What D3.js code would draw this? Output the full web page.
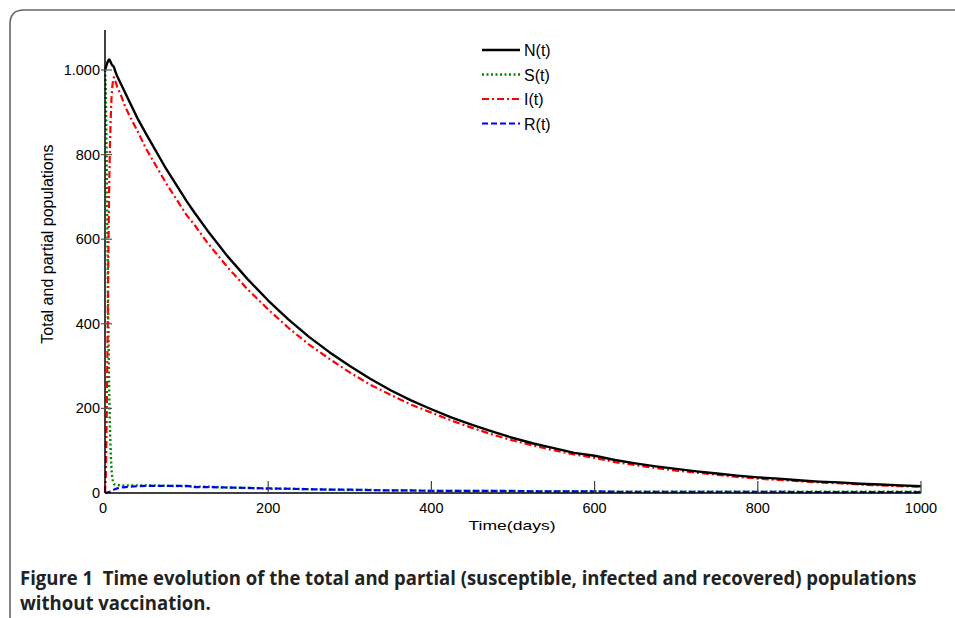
<!DOCTYPE html>
<html><head><meta charset="utf-8">
<script src="https://cdn.jsdelivr.net/npm/d3@7"></script>
<style>body{margin:0;background:#fff}svg{display:block}</style>
</head><body>
<script>
const times = [0,1,2,3,4,5,6,7,8,9,10,11,12,15,20,25,30,40,50,75,100,110,125,150,175,200,225,250,275,300,325,350,375,400,425,450,475,500,525,550,575,600,625,650,675,700,725,750,775,800,825,850,875,900,925,950,975,1000];
const valuesN = [1000,1006,1012,1018,1022,1025,1023,1018,1014,1011,1009,1007,1000,985,965,945,925,885,850,766,690,662,622,560,505,455,410,369,333,300,270,243,219,198,178,161,145,130,117,106,95,88,78,70,63,57,51,46,41,37,34,30,27,25,22,20,18,16];
const valuesS = [1000,950,800,600,420,260,160,95,55,35,25,21,20,19,18,18,18,18,18,17,16,15,15,13,12,10,10,9,8,7,7,6,6,5,5,5,5,4,4,4,4,4,3,3,3,3,3,3,3,3,3,3,3,3,3,3,3,3];
const valuesI = [0,40,160,340,540,710,815,885,935,962,978,983,978,960,938,912,892,855,815,732,657,633,593,534,481,434,390,351,317,285,256,232,209,190,171,154,138,124,112,101,91,83,73,66,59,53,48,43,38,34,31,28,25,23,20,18,16,15];
const valuesR = [0,0,1,1,2,2,3,4,5,6,7,8,9,11,13,14,15,16,17,17,17,14,14,13,12,11,10,9,8,8,7,6,6,5,5,5,5,5,4,4,4,4,3,3,3,3,3,3,3,3,3,2,2,2,2,2,2,2];
const seriesNames = ["N(t)","S(t)","I(t)","R(t)"];
const xTicks = [0,200,400,600,800,1000];
const yTicks = [0,200,400,600,800,1000];
const yTickLabels = ["0","200","400","600","800","1.000"];
const xTitle = "Time(days)";
const yTitle = "Total and partial populations";
const caption1 = "Figure 1  Time evolution of the total and partial (susceptible, infected and recovered) populations";
const caption2 = "without vaccination.";

const W = 955, H = 618;
const svg = d3.select("body").append("svg").attr("width", W).attr("height", H);

// frame
svg.append("path").attr("d", "M10,618 L10,24 Q10,10 24,10 L955,10")
  .attr("fill","none").attr("stroke","#666").attr("stroke-width",1.6);

const x = d3.scaleLinear().domain([0,1000]).range([105,921]);
const y = d3.scaleLinear().domain([0,1000]).range([493,70]);
const font = "'Liberation Sans', Arial, sans-serif";

const styles = [
  {color:"#000000", dash:null, w:2.4, vals:valuesN},
  {color:"#008a00", dash:"2,2.5", w:2.4, vals:valuesS},
  {color:"#ff0000", dash:"7,3,2,3", w:2.2, vals:valuesI},
  {color:"#0000ff", dash:"6,3", w:2.2, vals:valuesR}
];

const line = d3.line().x(d=>x(d[0])).y(d=>y(d[1]));
[1,2,0,3].forEach(i=>{
  const s = styles[i];
  svg.append("path").datum(times.map((t,k)=>[t,s.vals[k]]))
    .attr("d", line).attr("fill","none").attr("stroke", s.color)
    .attr("stroke-width", s.w).attr("stroke-dasharray", s.dash)
    .attr("stroke-linejoin","round");
});

// axes
svg.append("line").attr("x1",105).attr("x2",105).attr("y1",30).attr("y2",493).attr("stroke","#000").attr("stroke-width",1.5);
svg.append("line").attr("x1",105).attr("x2",921).attr("y1",493).attr("y2",493).attr("stroke","#000").attr("stroke-width",1.5);

yTicks.forEach((v,i)=>{
  if (i>0) svg.append("line").attr("x1",101).attr("x2",112).attr("y1",y(v)).attr("y2",y(v)).attr("stroke","#555").attr("stroke-width",1.2);
  svg.append("text").attr("x",100).attr("y",y(v)+5).attr("text-anchor","end")
    .attr("font-family",font).attr("font-size",14.5).text(yTickLabels[i]);
});
xTicks.forEach(v=>{
  if (v>0) svg.append("line").attr("x1",x(v)).attr("x2",x(v)).attr("y1",493).attr("y2",481).attr("stroke","#444").attr("stroke-width",1.2);
  svg.append("text").attr("x",x(v)-(v===0?2:0)).attr("y",513).attr("text-anchor","middle")
    .attr("font-family",font).attr("font-size",14.5).text(v);
});

svg.append("text").attr("x",512).attr("y",530).attr("text-anchor","middle")
  .attr("font-family",font).attr("font-size",13.5).attr("textLength",87).attr("lengthAdjust","spacingAndGlyphs").text(xTitle);
svg.append("text").attr("transform","translate(53,244) rotate(-90)").attr("text-anchor","middle")
  .attr("font-family",font).attr("font-size",16).text(yTitle);

// legend
seriesNames.forEach((n,i)=>{
  const s = styles[i];
  const ly = 50 + i*24.5;
  svg.append("line").attr("x1",482).attr("x2",520).attr("y1",ly).attr("y2",ly)
    .attr("stroke",s.color).attr("stroke-width",s.w).attr("stroke-dasharray",s.dash);
  svg.append("text").attr("x",524).attr("y",ly+6).attr("font-family",font).attr("font-size",16).text(n);
});

// caption: fitted to its width with a horizontal scale
function caption(txt, yb, targetW){
  const g = svg.append("g");
  const t = g.append("text").attr("x",0).attr("y",0).attr("font-family","'Open Sans', sans-serif")
    .attr("font-weight","bold").attr("font-size",19.5).attr("fill","#222")
    .style("white-space","pre").text(txt);
  const w = t.node().getComputedTextLength();
  g.attr("transform", `translate(20,${yb}) scale(${targetW/w},1)`);
}
caption(caption1, 585, 897);
caption(caption2, 610, 191);
</script>
</body></html>
